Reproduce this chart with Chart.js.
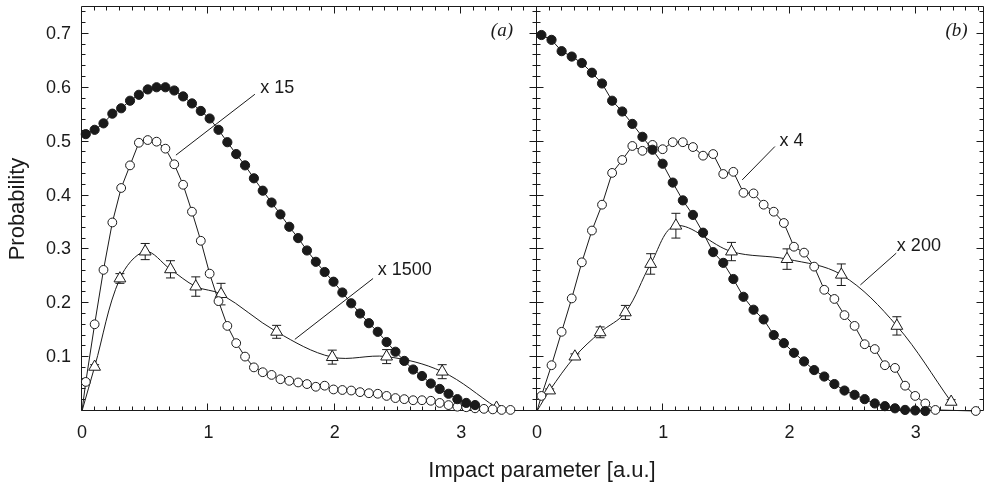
<!DOCTYPE html>
<html>
<head>
<meta charset="utf-8">
<script src="https://cdn.jsdelivr.net/npm/chart.js@4.4.0/dist/chart.umd.min.js"></script>
<style>
    body { margin: 0; background: #fff; }
    #wrap { position: relative; width: 985px; height: 487px; overflow: hidden; }
    #chartA { position: absolute; left: 0; top: 0; }
    #chartB { position: absolute; left: 500px; top: 0; }
    #xtitle {
        position: absolute; left: 342px; width: 400px; top: 457px;
        text-align: center; color: #1a1a1a;
        font: 22px 'Liberation Sans', Arial, sans-serif;
    }
</style>
</head>
<body>
<div id="wrap">
    <canvas id="chartA" width="537" height="487"></canvas>
    <canvas id="chartB" width="485" height="487"></canvas>
    <div id="xtitle">Impact parameter [a.u.]</div>
</div>
<script>
// Panel (a)
const aFilledX = [0.03, 0.10, 0.17, 0.24, 0.31, 0.38, 0.45, 0.52, 0.59, 0.66,
    0.73, 0.80, 0.87, 0.94, 1.01, 1.08, 1.15, 1.22, 1.29, 1.36,
    1.43, 1.50, 1.57, 1.64, 1.71, 1.78, 1.85, 1.92, 1.99, 2.06,
    2.13, 2.20, 2.27, 2.34, 2.41, 2.48, 2.55, 2.62, 2.69, 2.76,
    2.83, 2.90, 2.97, 3.04, 3.11];
const aFilledY = [0.514, 0.522, 0.534, 0.552, 0.562, 0.576, 0.587, 0.597, 0.601, 0.601,
    0.595, 0.584, 0.571, 0.557, 0.543, 0.522, 0.499, 0.477, 0.456, 0.432,
    0.409, 0.387, 0.365, 0.342, 0.321, 0.298, 0.277, 0.258, 0.240, 0.220,
    0.200, 0.181, 0.163, 0.147, 0.128, 0.110, 0.093, 0.077, 0.065, 0.051,
    0.041, 0.032, 0.022, 0.015, 0.011];

const aOpenX = [0, 0.03, 0.10, 0.17, 0.24, 0.31, 0.38, 0.45, 0.52, 0.59, 0.66,
    0.73, 0.80, 0.87, 0.94, 1.01, 1.08, 1.15, 1.22, 1.29, 1.36,
    1.43, 1.50, 1.57, 1.64, 1.71, 1.78, 1.85, 1.92, 1.99, 2.06,
    2.13, 2.20, 2.27, 2.34, 2.41, 2.48, 2.55, 2.62, 2.69, 2.76,
    2.83, 2.90, 2.97, 3.04, 3.11, 3.18, 3.25, 3.32, 3.39];
const aOpenY = [0, 0.054, 0.161, 0.262, 0.350, 0.414, 0.456, 0.498, 0.503, 0.500, 0.487,
    0.458, 0.420, 0.370, 0.316, 0.255, 0.204, 0.158, 0.126, 0.101, 0.081,
    0.072, 0.067, 0.059, 0.056, 0.053, 0.050, 0.045, 0.047, 0.040, 0.039,
    0.038, 0.035, 0.033, 0.032, 0.028, 0.024, 0.022, 0.020, 0.020, 0.019,
    0.015, 0.011, 0.008, 0.007, 0.005, 0.004, 0.003, 0.002, 0.002];

const triX = [0, 0.1, 0.3, 0.5, 0.7, 0.9, 1.1, 1.54, 1.98, 2.41, 2.85, 3.28];
const aTriY = [0, 0.082, 0.246, 0.296, 0.263, 0.231, 0.217, 0.147, 0.100, 0.101, 0.073, 0.006];
const aTriErr = [0, 0.004, 0.009, 0.015, 0.016, 0.018, 0.020, 0.012, 0.013, 0.013, 0.013, 0.004];

// Panel (b)
const bFilledX = [0.035, 0.115, 0.195, 0.275, 0.355, 0.435, 0.515, 0.595, 0.675, 0.755,
    0.835, 0.915, 0.995, 1.075, 1.155, 1.235, 1.315, 1.395, 1.475, 1.555,
    1.635, 1.715, 1.795, 1.875, 1.955, 2.035, 2.115, 2.195, 2.275, 2.355,
    2.435, 2.515, 2.595, 2.675, 2.755, 2.835, 2.915, 2.995, 3.075];
const bFilledY = [0.698, 0.689, 0.668, 0.658, 0.646, 0.628, 0.608, 0.576, 0.556, 0.533,
    0.509, 0.485, 0.459, 0.424, 0.391, 0.364, 0.331, 0.295, 0.275, 0.245,
    0.212, 0.188, 0.170, 0.141, 0.126, 0.108, 0.092, 0.076, 0.064, 0.050,
    0.038, 0.030, 0.022, 0.014, 0.009, 0.005, 0.002, 0.001, 0.000];

const bOpenX = [0, 0.035, 0.115, 0.195, 0.275, 0.355, 0.435, 0.515, 0.595, 0.675, 0.755,
    0.835, 0.915, 0.995, 1.075, 1.155, 1.235, 1.315, 1.395, 1.475, 1.555,
    1.635, 1.715, 1.795, 1.875, 1.955, 2.035, 2.115, 2.195, 2.275, 2.355,
    2.435, 2.515, 2.595, 2.675, 2.755, 2.835, 2.915, 2.995, 3.075, 3.155,
    3.475];
const bOpenY = [0, 0.028, 0.085, 0.147, 0.209, 0.276, 0.335, 0.383, 0.442, 0.466, 0.492,
    0.483, 0.494, 0.486, 0.499, 0.499, 0.490, 0.474, 0.477, 0.440, 0.444,
    0.405, 0.404, 0.383, 0.370, 0.349, 0.305, 0.294, 0.268, 0.225, 0.208,
    0.178, 0.158, 0.124, 0.115, 0.085, 0.080, 0.047, 0.028, 0.014, 0.002,
    0];

const bTriY = [0, 0.038, 0.101, 0.146, 0.183, 0.273, 0.344, 0.296, 0.282, 0.253, 0.158, 0.017];
const bTriErr = [0, 0.003, 0.005, 0.010, 0.013, 0.019, 0.023, 0.017, 0.019, 0.020, 0.017, 0.004];

// scale factors written next to the curves, with leader lines (data coords)
const notesA = [
    { text: 'x 15', at: [1.41, 0.600], from: [1.368, 0.588], to: [0.743, 0.475] },
    { text: 'x 1500', at: [2.34, 0.262], from: [2.303, 0.246], to: [1.684, 0.133] }
];
const notesB = [
    { text: 'x 4', at: [1.92, 0.501], from: [1.884, 0.491], to: [1.625, 0.429] },
    { text: 'x 200', at: [2.85, 0.306], from: [2.845, 0.293], to: [2.561, 0.234] }
];

const INK = '#1a1a1a';
Chart.defaults.font.family = "'Liberation Sans', Arial, sans-serif";
Chart.defaults.color = INK;

function pts(xs, ys) {
    return xs.map((x, i) => ({ x: x, y: ys[i] }));
}

// no marker on the origin point, the line just starts there
function hideOrigin(r) {
    return ctx => (ctx.raw && ctx.raw.x === 0) ? 0 : r;
}

function seriesSet(filledX, filledY, openX, openY, triY, triErr) {
    return [
        {
            data: pts(filledX, filledY), showLine: true, order: 1, clip: false,
            borderColor: INK, backgroundColor: INK, borderWidth: 1,
            pointRadius: 4.6, pointBorderWidth: 1
        },
        {
            data: pts(openX, openY), showLine: true, order: 2, clip: false,
            borderColor: INK, backgroundColor: '#fff', borderWidth: 1,
            pointRadius: hideOrigin(4.4), pointBorderWidth: 1
        },
        {
            data: pts(triX, triY), showLine: true, order: 3, clip: false,
            borderColor: INK, backgroundColor: '#fff', borderWidth: 1,
            pointStyle: 'triangle', pointRadius: hideOrigin(6.8), pointBorderWidth: 1,
            tension: 0.35, errorBars: triErr
        }
    ];
}

// frame, inward ticks, error bars and the text notes
const framePlugin = {
    id: 'deco',
    beforeDatasetsDraw(chart, args, opts) {
        const { ctx, chartArea: a, scales: { x, y } } = chart;
        const L = Math.round(a.left) - 0.5, R = Math.round(a.right) - 0.5;
        const T = Math.round(a.top) - 0.5, B = Math.round(a.bottom) - 0.5;
        ctx.save();
        ctx.strokeStyle = INK;
        ctx.lineWidth = 1;
        ctx.beginPath();
        ctx.rect(L, T, R - L, B - T);
        for (let k = 1; k * 0.1 <= x.max + 1e-9; k++) {
            const px = Math.round(x.getPixelForValue(k * 0.1)) - 0.5;
            const len = k % 10 === 0 ? 7 : 4;
            ctx.moveTo(px, B); ctx.lineTo(px, B - len);
            ctx.moveTo(px, T); ctx.lineTo(px, T + len);
        }
        for (let k = 1; k * 0.02 <= y.max + 1e-9; k++) {
            const py = Math.round(y.getPixelForValue(k * 0.02)) - 0.5;
            const len = k % 5 === 0 ? 7 : 4;
            ctx.moveTo(L, py); ctx.lineTo(L + len, py);
            ctx.moveTo(R, py); ctx.lineTo(R - len, py);
        }
        ctx.stroke();

        // error bars under the triangles
        ctx.beginPath();
        chart.data.datasets.forEach(ds => {
            if (!ds.errorBars) return;
            ds.data.forEach((p, j) => {
                const e = ds.errorBars[j];
                if (!e) return;
                const px = x.getPixelForValue(p.x);
                const y1 = y.getPixelForValue(p.y + e), y2 = y.getPixelForValue(p.y - e);
                ctx.moveTo(px, y1); ctx.lineTo(px, y2);
                ctx.moveTo(px - 4.5, y1); ctx.lineTo(px + 4.5, y1);
                ctx.moveTo(px - 4.5, y2); ctx.lineTo(px + 4.5, y2);
            });
        });
        ctx.stroke();
        ctx.restore();
    },
    afterDatasetsDraw(chart, args, opts) {
        const { ctx, scales: { x, y } } = chart;
        ctx.save();
        ctx.strokeStyle = INK;
        ctx.fillStyle = INK;
        ctx.lineWidth = 1;
        ctx.font = "18px 'Liberation Sans', Arial, sans-serif";
        ctx.textAlign = 'left';
        ctx.textBaseline = 'middle';
        (opts.notes || []).forEach(n => {
            ctx.beginPath();
            ctx.moveTo(x.getPixelForValue(n.from[0]), y.getPixelForValue(n.from[1]));
            ctx.lineTo(x.getPixelForValue(n.to[0]), y.getPixelForValue(n.to[1]));
            ctx.stroke();
            ctx.fillText(n.text, x.getPixelForValue(n.at[0]), y.getPixelForValue(n.at[1]));
        });
        if (opts.panel) {
            ctx.font = "italic 19px 'Liberation Serif', 'Times New Roman', serif";
            ctx.textAlign = 'right';
            ctx.fillText(opts.panel, x.getPixelForValue(3.41), y.getPixelForValue(0.706));
        }
        ctx.restore();
    }
};

function makeChart(id, datasets, xMax, showY, padding, deco) {
    return new Chart(document.getElementById(id), {
        type: 'scatter',
        data: { datasets: datasets },
        options: {
            responsive: false,
            animation: false,
            layout: { padding: padding, autoPadding: false },
            plugins: {
                legend: { display: false },
                tooltip: { enabled: false },
                deco: deco
            },
            scales: {
                x: {
                    type: 'linear', min: 0, max: xMax,
                    grid: { display: false, drawTicks: false },
                    border: { display: false },
                    ticks: {
                        stepSize: 1, padding: 11, autoSkip: false, maxRotation: 0,
                        includeBounds: false,
                        font: { size: 18 },
                        callback: v => Number.isInteger(v) ? String(v) : ''
                    },
                    afterFit: s => {
                        s.height = 76;
                        s.paddingLeft = 0;
                        s.paddingRight = 0;
                    }
                },
                y: {
                    display: showY, min: 0, max: 0.75,
                    grid: { display: false, drawTicks: false },
                    border: { display: false },
                    ticks: {
                        stepSize: 0.1, padding: 11, autoSkip: false,
                        includeBounds: false,
                        font: { size: 18 },
                        callback: v => (v > 0.05 && Math.abs(v * 10 - Math.round(v * 10)) < 1e-6) ? v.toFixed(1) : ''
                    },
                    title: {
                        display: true, text: 'Probability',
                        font: { size: 22 }, padding: { top: 5, bottom: 0 }
                    },
                    afterFit: s => {
                        s.width = showY ? 82 : 0;
                        s.paddingTop = 0;
                        s.paddingBottom = 0;
                    }
                }
            }
        },
        plugins: [framePlugin]
    });
}

document.addEventListener('DOMContentLoaded', function() {
    makeChart('chartA',
        seriesSet(aFilledX, aFilledY, aOpenX, aOpenY, aTriY, aTriErr),
        3.6, true, { top: 7, left: 0, right: 0, bottom: 0 },
        { notes: notesA, panel: '(a)' });

    makeChart('chartB',
        seriesSet(bFilledX, bFilledY, bOpenX, bOpenY, bTriY, bTriErr),
        3.54, false, { top: 7, left: 37, right: 1, bottom: 0 },
        { notes: notesB, panel: '(b)' });
});
</script>
</body>
</html>
